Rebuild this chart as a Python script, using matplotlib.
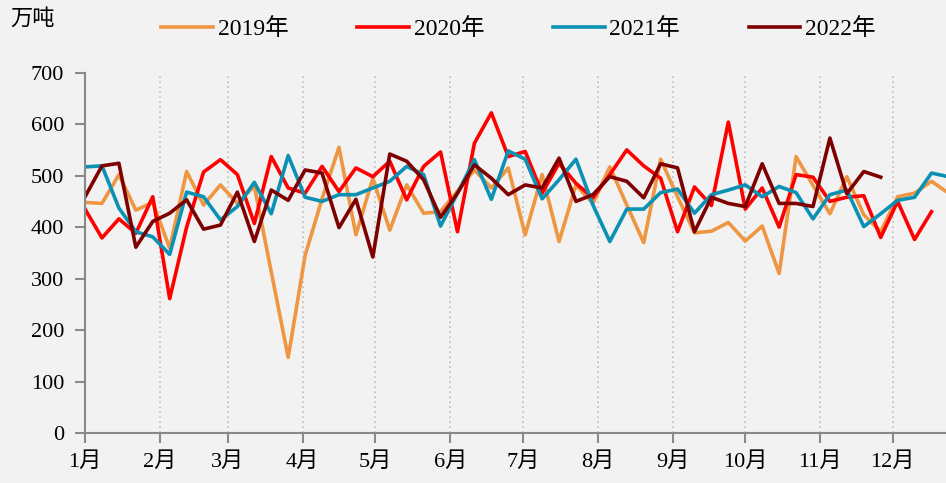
import numpy as np
import pandas as pd
import matplotlib
matplotlib.use('Agg')
import matplotlib.pyplot as plt
import matplotlib.dates as mdates
from matplotlib.ticker import FuncFormatter

# weekly values, 万吨
y2019 = [448, 446, 502, 433, 448, 359, 508, 443, 482, 446,
         480, 313, 147, 345, 455, 555, 385, 495, 394, 482,
         427, 430, 470, 511, 476, 515, 385, 502, 372, 482,
         446, 517, 443, 370, 532, 459, 389, 392, 409, 373,
         402, 310, 537, 481, 426, 498, 424, 391, 459, 466,
         489, 466]
y2020 = [435, 379, 416, 388, 459, 261, 400, 507, 531, 502,
         407, 537, 476, 466, 518, 469, 515, 498, 528, 453,
         518, 546, 391, 563, 622, 537, 547, 466, 524, 485,
         457, 502, 550, 519, 495, 391, 478, 442, 604, 435,
         476, 400, 502, 497, 450, 458, 461, 380, 450, 376,
         430]
y2021 = [517, 519, 437, 391, 381, 347, 468, 459, 414, 440,
         487, 426, 539, 458, 450, 463, 463, 476, 489, 518,
         502, 402, 466, 531, 454, 548, 532, 455, 492, 532,
         443, 372, 435, 435, 467, 474, 427, 463, 472, 482,
         459, 479, 467, 416, 463, 472, 401, 426, 452, 458,
         505, 498]
y2022 = [459, 519, 524, 361, 411, 427, 453, 396, 404, 468,
         372, 472, 452, 511, 505, 399, 454, 342, 542, 528,
         492, 419, 466, 521, 495, 463, 482, 476, 534, 450,
         463, 498, 489, 457, 523, 515, 391, 458, 446, 440,
         523, 446, 446, 440, 573, 465, 508, 497]

labels = ['2019年', '2020年', '2021年', '2022年']
colors = ['#EE9641', '#FF0000', '#0A91B4', '#7F0000']
series = [y2019, y2020, y2021, y2022]

bg = '#f2f2f2'
fonts = ['Liberation Serif', 'Noto Sans CJK SC']
plt.rcParams['font.family'] = fonts


def main():
    fig = plt.figure(figsize=(9.46, 4.83), dpi=100, facecolor=bg)
    ax = fig.add_axes([0.0899, 0.1035, 0.9101, 0.746], facecolor=bg)

    start = pd.Timestamp('2022-01-01')
    for vals, lab, c in zip(series, labels, colors):
        x = pd.date_range(start, periods=len(vals), freq='7D')
        ax.plot(x, vals, color=c, lw=2.6, label=lab)

    ax.set_ylim(0, 700)
    ax.set_yticks(range(0, 701, 100))
    ax.set_xlim(start, start + pd.Timedelta(days=356))
    ax.xaxis.set_major_locator(mdates.MonthLocator())
    ax.xaxis.set_major_formatter(FuncFormatter(
        lambda v, p: f'{mdates.num2date(v).month}月'))

    for s in ['top', 'right']:
        ax.spines[s].set_visible(False)
    for s in ['left', 'bottom']:
        ax.spines[s].set_color('#898989')
        ax.spines[s].set_linewidth(1.5)
    ax.tick_params(axis='both', colors='#898989', width=1.5, length=7,
                   labelcolor='black', labelsize=16)
    ax.tick_params(axis='y', pad=8)
    ax.tick_params(axis='x', pad=7)
    ax.xaxis.grid(True, linestyle=(0, (1, 2)), color='#bdbdbd', lw=1.2)

    fig.text(0.011, 0.96, '万吨', fontsize=16, va='center', ha='left')
    fig.legend(loc='center', bbox_to_anchor=(0.548, 0.94), ncol=4,
               frameon=False, fontsize=17, handlelength=2.2,
               columnspacing=2.9, handletextpad=0.2)

    fig.savefig('out.png', dpi=100, facecolor=bg)


if __name__ == "__main__":
    main()
